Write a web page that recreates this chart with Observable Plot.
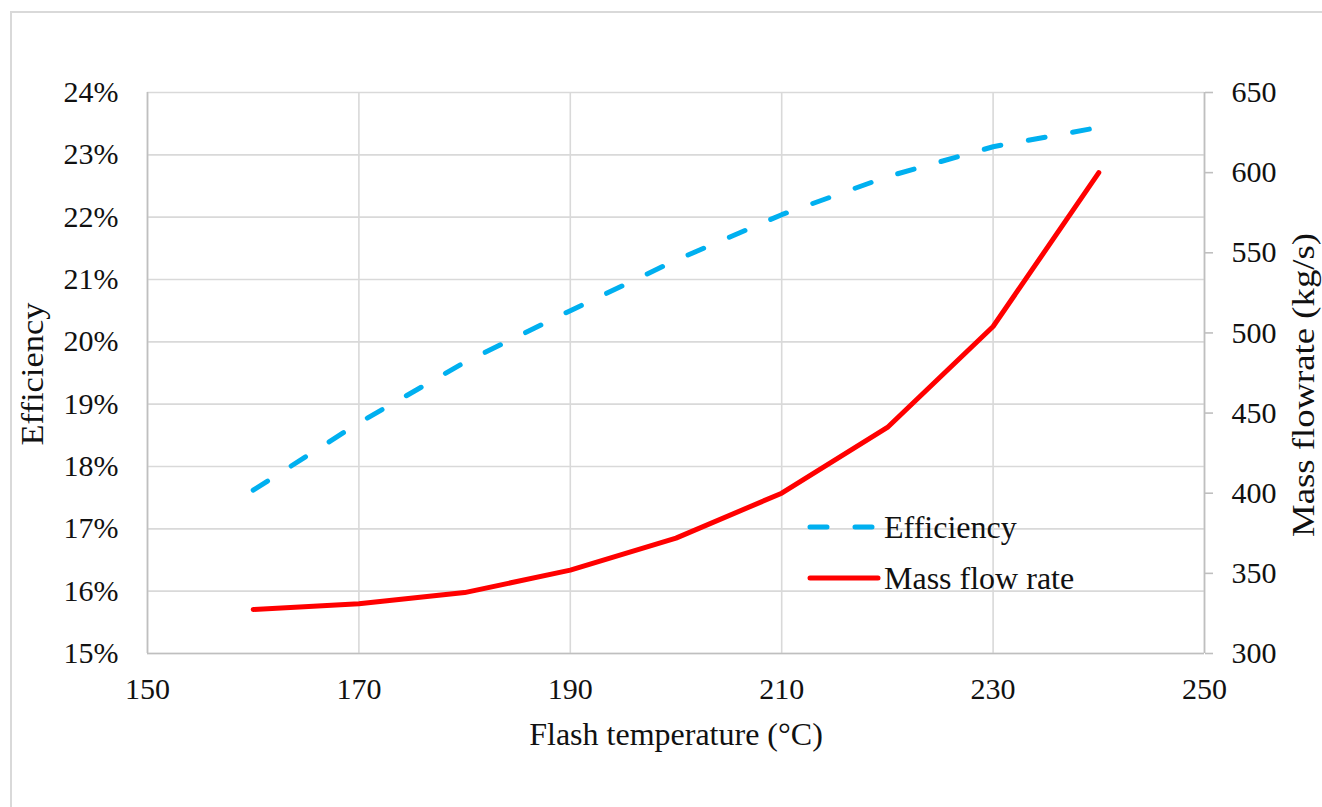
<!DOCTYPE html>
<html>
<head>
<meta charset="utf-8">
<script src="https://cdn.jsdelivr.net/npm/d3@7"></script>
<script src="https://cdn.jsdelivr.net/npm/@observablehq/plot@0.6"></script>
<style>
  html, body { margin: 0; padding: 0; background: #fff; }
  #wrap { position: relative; width: 1322px; height: 807px; overflow: hidden; font-family: "Liberation Serif", "Times New Roman", serif; }
  #border { position: absolute; left: 10px; top: 11px; width: 1400px; height: 900px; border-left: 2px solid #d9d9d9; border-top: 2px solid #d9d9d9; box-sizing: border-box; }
  #chart { position: absolute; left: 0; top: 0; }
  #legend { position: absolute; left: 0; top: 0; pointer-events: none; }
</style>
</head>
<body>
<div id="wrap">
  <div id="border"></div>
  <div id="chart"></div>
  <svg id="legend" width="1322" height="807"></svg>
</div>
<script>
// ---- data ----
const temperatures = [160, 170, 180, 190, 200, 210, 220, 230, 240];
const efficiency = [17.62, 18.70, 19.67, 20.50, 21.31, 22.04, 22.65, 23.13, 23.44]; // %
const massFlow = [327.5, 331, 338, 352, 372, 400, 441, 504, 600]; // kg/s

const xTicks = [150, 170, 190, 210, 230, 250];
const effTicks = [15, 16, 17, 18, 19, 20, 21, 22, 23, 24];
const massTicks = [300, 350, 400, 450, 500, 550, 600, 650];

const seriesNames = ["Efficiency", "Mass flow rate"];
const xLabel = "Flash temperature (°C)";
const yLabelLeft = "Efficiency";
const yLabelRight = "Mass flowrate (kg/s)";

// ---- secondary axis mapping (mass -> efficiency scale) ----
const effMin = 15, effMax = 24, massMin = 300, massMax = 650;
const toEff = m => effMin + (m - massMin) * (effMax - effMin) / (massMax - massMin);
const toMass = e => massMin + (e - effMin) * (massMax - massMin) / (effMax - effMin);

const effData = temperatures.map((t, i) => ({t, v: efficiency[i]}));
const massData = temperatures.map((t, i) => ({t, v: toEff(massFlow[i])}));

const BLUE = "#00b0f0", RED = "#ff0000", GRID = "#d9d9d9", AXIS = "#bfbfbf", TEXT = "#111";
const FONT = "'Liberation Serif', 'Times New Roman', serif";

const chart = Plot.plot({
  width: 1322,
  height: 807,
  marginLeft: 147,
  marginRight: 118,
  marginTop: 92,
  marginBottom: 154,
  style: {fontFamily: FONT, fontSize: "30px", color: TEXT, background: "transparent"},
  x: {domain: [150, 250]},
  y: {domain: [effMin, effMax]},
  marks: [
    Plot.gridX(xTicks, {stroke: GRID, strokeOpacity: 1, strokeWidth: 1.6}),
    Plot.gridY(effTicks, {stroke: GRID, strokeOpacity: 1, strokeWidth: 1.6}),
    Plot.ruleX([150, 250], {stroke: AXIS, strokeWidth: 1.6}),
    Plot.ruleY([effMin], {stroke: AXIS, strokeWidth: 1.6}),
    Plot.axisX(xTicks, {tickSize: 0, tickPadding: 24, label: null, fill: TEXT}),
    Plot.axisY(effTicks, {anchor: "left", tickSize: 0, tickPadding: 29, label: null, tickFormat: d => d + "%", fill: TEXT}),
    Plot.axisY(massTicks.map(toEff), {anchor: "right", tickSize: 8, tickPadding: 19, label: null,
      stroke: AXIS, strokeWidth: 1.6, fill: TEXT, tickFormat: d => String(Math.round(toMass(d)))}),
    Plot.line(effData, {x: "t", y: "v", stroke: BLUE, strokeWidth: 5, strokeDasharray: "17 28", strokeLinecap: "round"}),
    Plot.line(massData, {x: "t", y: "v", stroke: RED, strokeWidth: 5, strokeLinecap: "round", strokeLinejoin: "round"}),
    Plot.text([xLabel], {frameAnchor: "bottom", dy: 81, fill: TEXT, fontSize: 32, textAnchor: "middle", lineAnchor: "middle"}),
    Plot.text([yLabelLeft], {frameAnchor: "left", rotate: -90, dx: -114, dy: 1, fill: TEXT, fontSize: 31, textAnchor: "middle", lineAnchor: "middle"}),
    Plot.text([yLabelRight], {frameAnchor: "right", rotate: -90, dx: 100, dy: 12, fill: TEXT, fontSize: 31, textAnchor: "middle", lineAnchor: "middle"})
  ]
});
document.getElementById("chart").appendChild(chart);

// the reference's axis titles are taller than their font would give: stretch them along their length
const stretch = {[yLabelLeft]: 143, [yLabelRight]: 304};
d3.select(chart).selectAll("text").filter(function() { return this.textContent in stretch; })
  .each(function() {
    d3.select(this).attr("textLength", stretch[this.textContent]).attr("lengthAdjust", "spacingAndGlyphs");
  });

// ---- legend (inside plot area) ----
const lg = d3.select("#legend");
const legendItems = [
  {name: seriesNames[0], color: BLUE, dash: "17 28", y: 527},
  {name: seriesNames[1], color: RED, dash: null, y: 578}
];
legendItems.forEach(it => {
  lg.append("line").attr("x1", 810).attr("x2", 878).attr("y1", it.y).attr("y2", it.y)
    .attr("stroke", it.color).attr("stroke-width", 5).attr("stroke-linecap", "round")
    .attr("stroke-dasharray", it.dash);
  lg.append("text").attr("x", 884).attr("y", it.y).attr("dy", "0.35em")
    .attr("font-family", FONT).attr("font-size", 32)
    .attr("fill", TEXT).text(it.name);
});
</script>
</body>
</html>
